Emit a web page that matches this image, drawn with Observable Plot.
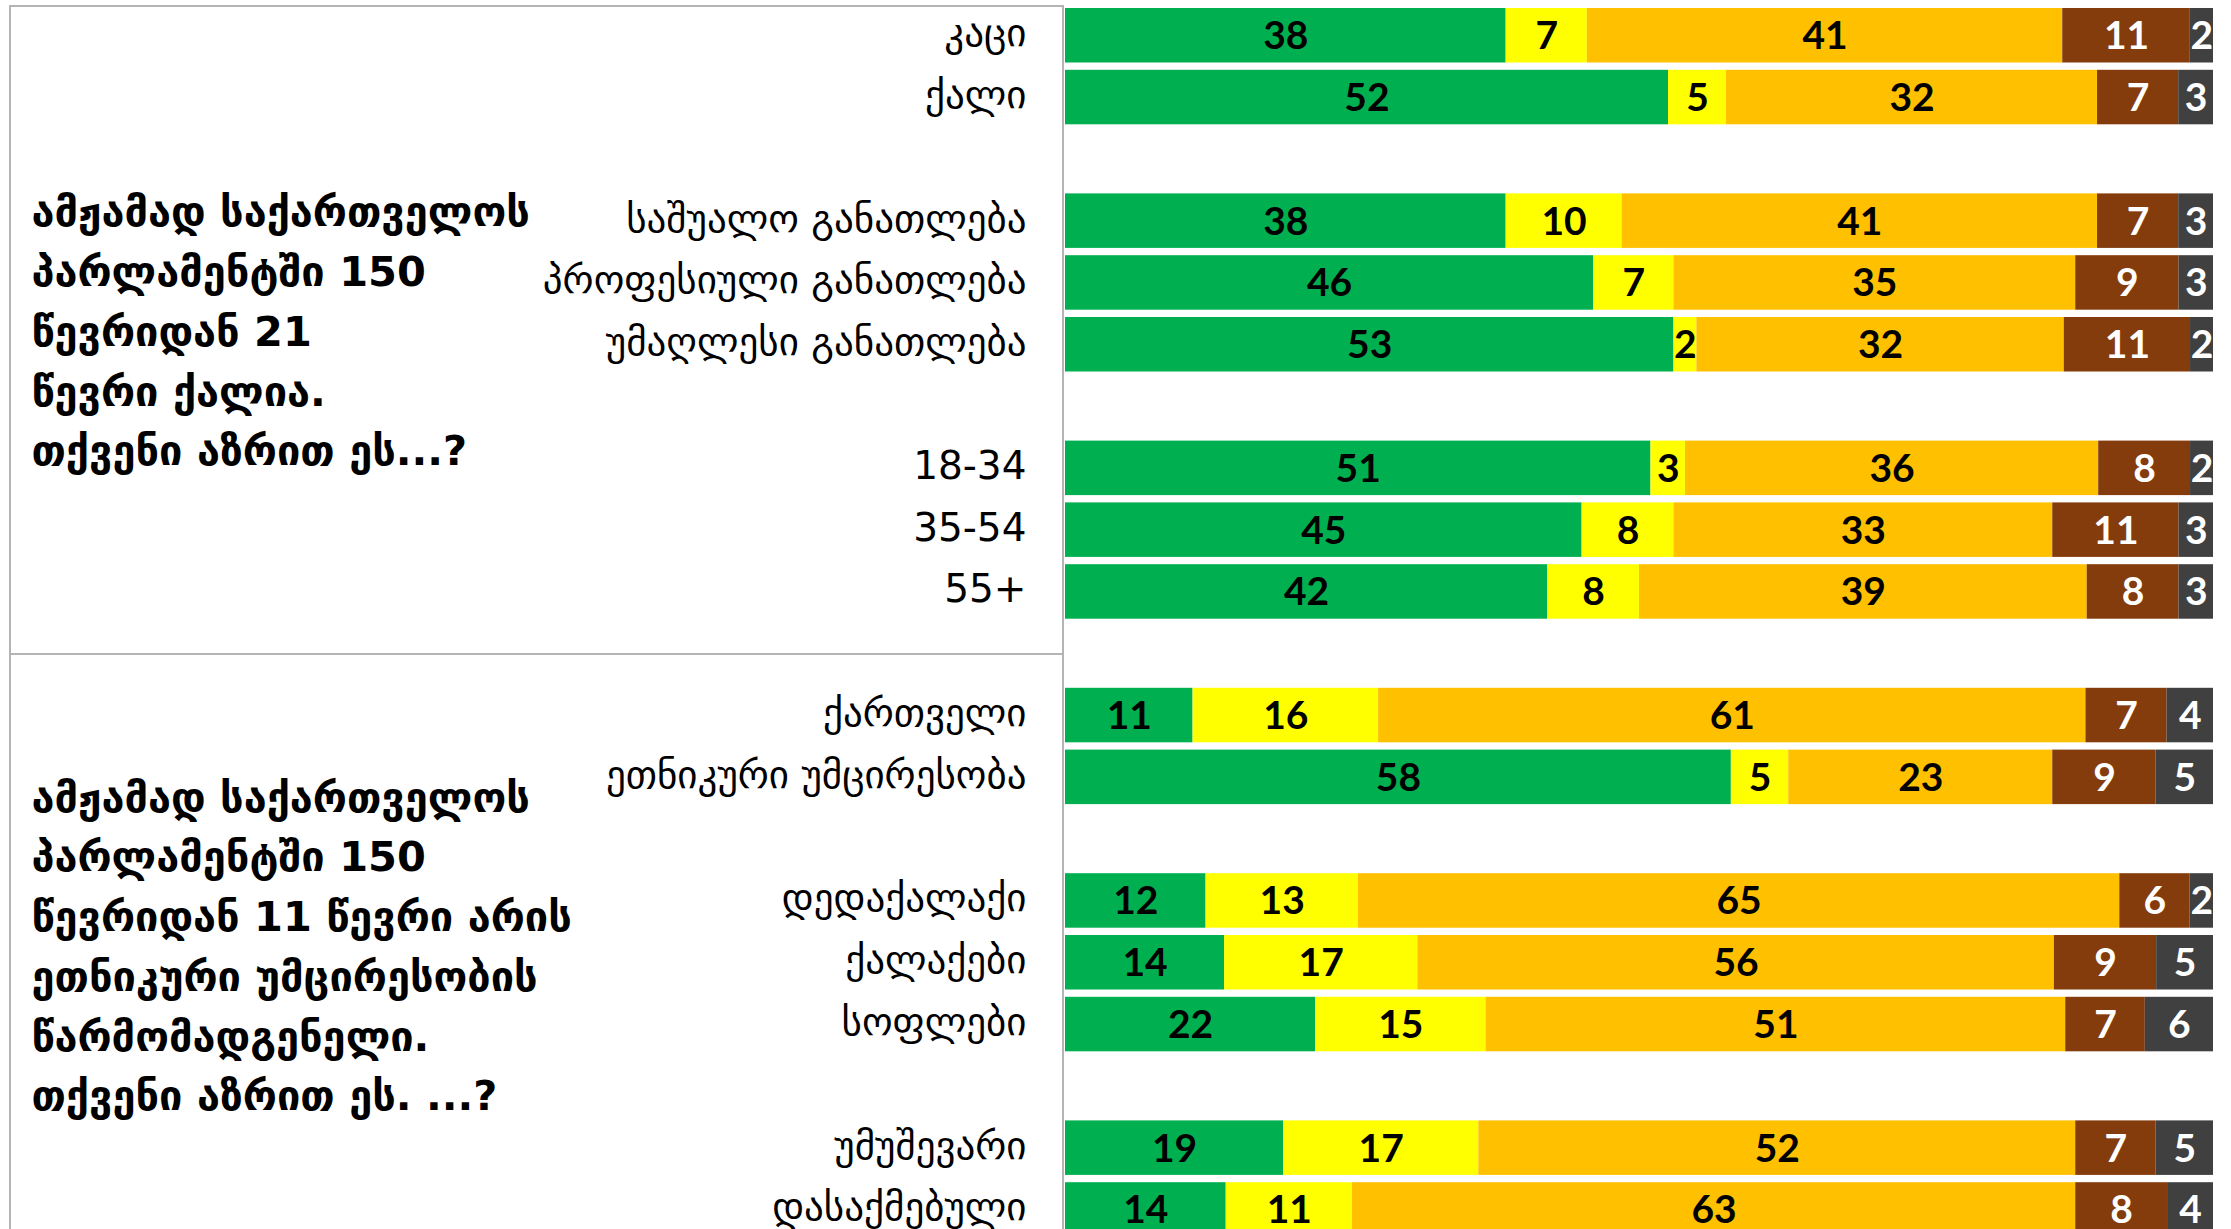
<!DOCTYPE html>
<html>
<head>
<meta charset="utf-8">
<script src="https://cdn.jsdelivr.net/npm/d3@7"></script>
<script src="https://cdn.jsdelivr.net/npm/@observablehq/plot@0.6"></script>
<style>
  html, body { margin: 0; padding: 0; background: #fff; overflow: hidden; }
  #wrap { position: relative; width: 2231px; height: 1229px; }
  .box { position: absolute; border: 2px solid #b4b4b4; box-sizing: border-box; }
  #chart { position: absolute; left: 0; top: 0; }
</style>
</head>
<body>
<div id="wrap">
  <div class="box" style="left:9px; top:5px; width:1055px; height:650px;"></div>
  <div class="box" style="left:9px; top:653px; width:1055px; height:700px;"></div>
  <div id="chart"></div>
</div>
<script>
// ---- data ----
const categories = [
  "კაცი", "ქალი",
  "საშუალო განათლება", "პროფესიული განათლება", "უმაღლესი განათლება",
  "18-34", "35-54", "55+",
  "ქართველი", "ეთნიკური უმცირესობა",
  "დედაქალაქი", "ქალაქები", "სოფლები",
  "უმუშევარი", "დასაქმებული"
];
const groupOf = [0,0, 1,1,1, 2,2,2, 3,3, 4,4,4, 5,5];
const series = ["s1", "s2", "s3", "s4", "s5"];
const colors = ["#00B050", "#FFFF00", "#FFC000", "#843C0C", "#404040"];
const s1 = [38,52,38,46,53,51,45,42,11,58,12,14,22,19,14];
const s2 = [7,5,10,7,2,3,8,8,16,5,13,17,15,17,11];
const s3 = [41,32,41,35,32,36,33,39,61,23,65,56,51,52,63];
const s4 = [11,7,7,9,11,8,11,8,7,9,6,9,7,7,8];
const s5 = [2,3,3,3,2,2,3,3,4,5,2,5,6,5,4];
const darkLabelSeries = ["s1", "s2", "s3"];
const questions = [
  "ამჟამად საქართველოს\nპარლამენტში 150\nწევრიდან 21\nწევრი ქალია.\nთქვენი აზრით ეს...?",
  "ამჟამად საქართველოს\nპარლამენტში 150\nწევრიდან 11 წევრი არის\nეთნიკური უმცირესობის\nწარმომადგენელი.\nთქვენი აზრით ეს. ...?"
];

// ---- build ----
const seriesValues = [s1, s2, s3, s4, s5];
const rows = [];
seriesValues.forEach((vals, si) => {
  vals.forEach((v, ci) => rows.push({category: categories[ci], series: series[si], value: v}));
});
const domain = [];
categories.forEach((c, i) => {
  if (i > 0 && groupOf[i] !== groupOf[i - 1]) domain.push("gap" + i);
  domain.push(c);
});

const stackOpts = {x: "value", y: "category", z: "series", offset: "normalize", order: series};
const numFont = "Lato, 'Open Sans', sans-serif";
const geoFont = "'DejaVu Sans', sans-serif";
const isDark = d => darkLabelSeries.includes(d.series);

const plot = Plot.plot({
  width: 2231,
  height: 1229,
  marginLeft: 1065,
  marginRight: 18,
  marginTop: 0,
  marginBottom: 0,
  x: {domain: [0, 1], axis: null},
  y: {domain, range: [0.7, 1244], padding: 0.118, round: false, axis: null},
  color: {domain: series, range: colors},
  marks: [
    Plot.barX(rows, Plot.stackX({...stackOpts, fill: "series"})),
    Plot.text(rows, Plot.stackX({
      ...stackOpts,
      text: d => isDark(d) ? String(d.value) : "",
      fill: "#000000", fontSize: 39, fontWeight: "bold", fontFamily: numFont, dy: 1
    })),
    Plot.text(rows, Plot.stackX({
      ...stackOpts,
      text: d => isDark(d) ? "" : String(d.value),
      fill: "#ffffff", fontSize: 39, fontWeight: "bold", fontFamily: numFont, dy: 1
    })),
    Plot.text(categories, {
      y: d => d, frameAnchor: "left", textAnchor: "end", dx: -39, dy: -2,
      fontSize: 39, fontFamily: geoFont, fill: "#000"
    }),
    Plot.text([questions[0]], {
      y: () => categories[4], frameAnchor: "left", textAnchor: "start", dx: -1034, dy: -18,
      lineHeight: 1.44, fontSize: 41.5, fontWeight: "bold", fontFamily: geoFont, fill: "#000"
    }),
    Plot.text([questions[1]], {
      y: () => categories[10], frameAnchor: "left", textAnchor: "start", dx: -1034, dy: 41,
      lineHeight: 1.44, fontSize: 41.5, fontWeight: "bold", fontFamily: geoFont, fill: "#000"
    })
  ]
});
document.getElementById("chart").appendChild(plot);
</script>
</body>
</html>
